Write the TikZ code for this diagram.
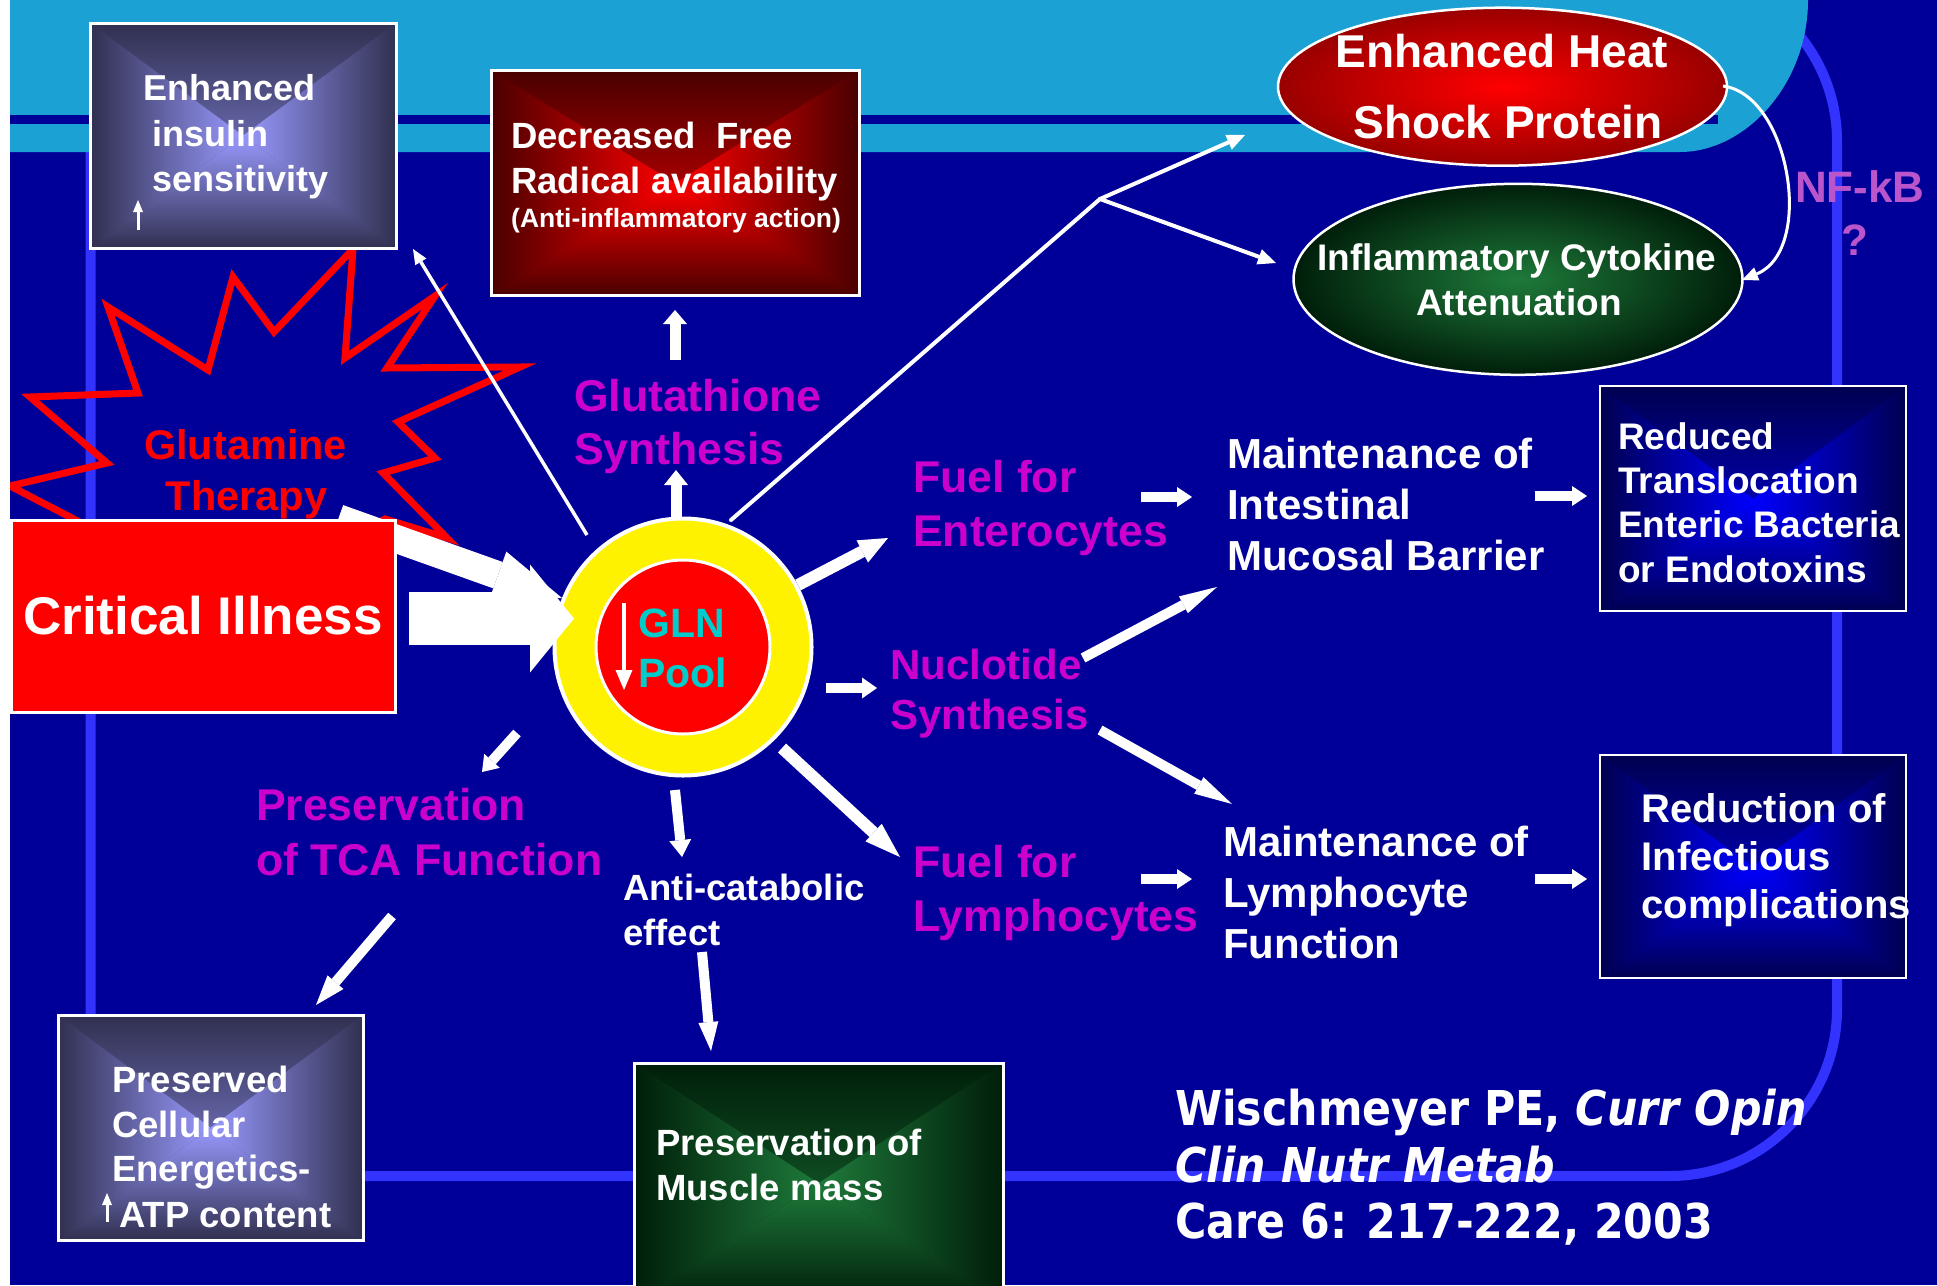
\documentclass[tikz,border=0pt]{standalone}
\usepackage{fontspec}
\setmainfont{Liberation Sans}
\newfontfamily\citefont{DejaVu Sans}[FakeStretch=0.89,BoldFont={DejaVu Sans Bold},BoldItalicFont={DejaVu Sans Bold Oblique}]
\usetikzlibrary{arrows.meta,shapes.geometric}
\definecolor{bgblue}{HTML}{000099}
\definecolor{skyband}{HTML}{1BA1D4}
\definecolor{frameblue}{HTML}{3333FF}
\definecolor{mag}{HTML}{CC00CC}
\definecolor{glncyan}{HTML}{00CCCC}
\definecolor{nfkb}{HTML}{BB55CC}
\definecolor{slateout}{HTML}{303050}
\definecolor{slatein}{HTML}{9999FF}
\definecolor{redout}{HTML}{4A0000}
\definecolor{bluout}{HTML}{000050}
\definecolor{grnout}{HTML}{001E0A}
\definecolor{grnin}{HTML}{1E7A3A}
\definecolor{heatout}{HTML}{990000}
\colorlet{gout}{black}
\colorlet{gin}{white}
\pgfdeclarehorizontalshading[gout,gin]{hlr}{100bp}{color(0bp)=(gout); color(25bp)=(gout); color(75bp)=(gin); color(100bp)=(gin)}
\pgfdeclarehorizontalshading[gout,gin]{hrl}{100bp}{color(0bp)=(gin); color(25bp)=(gin); color(75bp)=(gout); color(100bp)=(gout)}
\newcommand\fsz[1]{\fontsize{#1}{#1}\selectfont}
\tikzset{
  lbl/.style={inner sep=0pt, anchor=base west, font=\bfseries\fsz{#1}},
  lblc/.style={inner sep=0pt, anchor=base, font=\bfseries\fsz{#1}},
  wa/.style n args={3}{draw=white, line width=#1, arrows={-{Triangle[width=#2,length=#3,line width=0pt]}}},
  gbox/.style={draw=white, inner sep=0pt},
  rgrad/.style 2 args={fill=#1, path picture={
    \colorlet{gout}{#1}\colorlet{gin}{#2}%
    \shade[top color=#1,bottom color=#2] (path picture bounding box.north west) -- (path picture bounding box.north east) -- (path picture bounding box.center) -- cycle;
    \shade[top color=#2,bottom color=#1] (path picture bounding box.south west) -- (path picture bounding box.south east) -- (path picture bounding box.center) -- cycle;
    \shade[shading=hlr] (path picture bounding box.north west) -- (path picture bounding box.south west) -- (path picture bounding box.center) -- cycle;
    \shade[shading=hrl] (path picture bounding box.north east) -- (path picture bounding box.south east) -- (path picture bounding box.center) -- cycle;
  }},
}
\begin{document}
\begin{tikzpicture}[x=1pt,y=-1pt]
\useasboundingbox (0,0) rectangle (1937,1285);
% background
\fill[white] (0,0) rectangle (1937,1285);
\fill[bgblue] (10,0) rectangle (1937,1285);
\draw[frameblue, line width=10pt, rounded corners=167pt] (90.5,-26) rectangle (1837,1176);
\fill[skyband] (10,0) -- (1808,0) .. controls (1808,85) and (1745,152) .. (1680,152) -- (10,152) -- cycle;
\fill[bgblue] (10,115) rectangle (1718,124);
% starburst
\draw[red, line width=7pt, miter limit=20] (10,486) -- (107,463) -- (30,397) -- (138,393) -- (108,307) -- (208,370) -- (233,277) -- (274,332) -- (353,249) -- (345,358) -- (435,296) -- (387,368) -- (520,367) -- (398,422) -- (435,458) -- (383,473) -- (447,538) -- (385,519) -- (250,600) -- (150,560) -- (70,517) -- cycle;
\fill[white] (0,0) rectangle (10,1285);
\node[lblc=41.5, text=red] (gt1) at (245.5,459) {Glutamine};
\node[lblc=41.5, text=red] (gt2) at (246.5,510) {Therapy};
% GLN pool
\node[circle, fill=yellow, draw=white, line width=4pt, minimum size=257pt, inner sep=0pt] (ring) at (683,647) {};
\node[circle, fill=red, draw=white, line width=3pt, minimum size=174pt, inner sep=0pt] (pool) at (683,647) {};
\node[lbl=41, text=glncyan] (gln1) at (638,637) {GLN};
\node[lbl=41, text=glncyan] (gln2) at (638,687) {Pool};
\coordinate (gd0) at (624,603); \coordinate (gd1) at (624,690);
\draw[wa={4pt}{17pt}{20pt}] (gd0) -- (gd1);
% big arrows into pool
\coordinate (s0) at (338.5,518.3); \coordinate (s1) at (562,598);
\coordinate (h0) at (409,618.5); \coordinate (h1) at (574,618.5);
\draw[wa={28pt}{50pt}{68pt}] (s0) -- (s1);
\draw[wa={53pt}{108pt}{44pt}] (h0) -- (h1);
% Critical illness
\node[gbox, line width=3pt, fill=red, minimum width=384pt, minimum height=192pt, text=white, font=\bfseries\fsz{53}] (crit) at (203,616) {Critical Illness};
% top boxes
\node[gbox, line width=3pt, rgrad={slateout}{slatein}, minimum width=306pt, minimum height=225pt] (ins) at (243,135.5) {};
\node[lbl=36, text=white] (ins1) at (143.5,100) {Enhanced};
\node[lbl=36, text=white] (ins2) at (152,146) {insulin};
\node[lbl=36, text=white] (ins3) at (152,191) {sensitivity};
\coordinate (ua0) at (138,230); \coordinate (ua1) at (138,200);
\draw[wa={3pt}{10pt}{12pt}] (ua0) -- (ua1);
\node[gbox, line width=3pt, rgrad={redout}{red}, minimum width=368pt, minimum height=225pt] (dfr) at (675,183) {};
\node[lbl=36.5, text=white] (dfr1) at (511,148) {Decreased~~Free};
\node[lbl=36.5, text=white] (dfr2) at (511,193) {Radical availability};
\node[lbl=26.5, text=white] (dfr3) at (511,227) {(Anti-inflammatory action)};
% ellipses
\node[ellipse, draw=white, line width=2.5pt, inner sep=0pt, minimum width=449pt, minimum height=158pt, inner color=red, outer color=heatout] (heat) at (1502.5,86.7) {};
\node[lblc=46, text=white] (heat1) at (1502,67) {Enhanced Heat};
\node[lblc=46, text=white] (heat2) at (1508,138) {Shock Protein};
\node[ellipse, draw=white, line width=2.5pt, inner sep=0pt, minimum width=449pt, minimum height=191pt, inner color=grnin, outer color=grnout] (cyto) at (1518,279.3) {};
\node[lblc=37, text=white] (cyt1) at (1517,270) {Inflammatory Cytokine};
\node[lblc=37, text=white] (cyt2) at (1519,315) {Attenuation};
\node[lbl=44, text=nfkb] (nf1) at (1795,202) {NF-kB};
\node[lblc=44, text=nfkb] (nf2) at (1855,255) {?};
\coordinate (nfa) at (1723,86); \coordinate (nfb) at (1742,280);
\draw[white, line width=3pt, arrows={-{Triangle[width=14pt,length=16pt,line width=0pt]}}] (nfa) .. controls (1790,95) and (1815,250) .. (nfb);
% magenta labels
\node[lbl=44.5, text=mag] (gs1) at (574,411) {Glutathione};
\node[lbl=44.5, text=mag] (gs2) at (574,464) {Synthesis};
\node[lbl=44.5, text=mag] (fe1) at (913,492) {Fuel for};
\node[lbl=44.5, text=mag] (fe2) at (913,546) {Enterocytes};
\node[lbl=42, text=mag] (ns1) at (890,679) {Nuclotide};
\node[lbl=42, text=mag] (ns2) at (890,729) {Synthesis};
\node[lbl=44.5, text=mag] (fl1) at (913,877) {Fuel for};
\node[lbl=44.5, text=mag] (fl2) at (913,931) {Lymphocytes};
\node[lbl=44.5, text=mag] (tca1) at (256,820) {Preservation};
\node[lbl=44.5, text=mag] (tca2) at (256,875) {of TCA Function};
\node[lbl=36.5, text=white] (ac1) at (623,900) {Anti-catabolic};
\node[lbl=36.5, text=white] (ac2) at (623,945) {effect};
% white labels
\node[lbl=42, text=white] (mi1) at (1227,468) {Maintenance of};
\node[lbl=42, text=white] (mi2) at (1227,519) {Intestinal};
\node[lbl=42, text=white] (mi3) at (1227,570) {Mucosal Barrier};
\node[lbl=42, text=white] (ml1) at (1223,856) {Maintenance of};
\node[lbl=42, text=white] (ml2) at (1223,907) {Lymphocyte};
\node[lbl=42, text=white] (ml3) at (1223,958) {Function};
% right boxes
\node[gbox, line width=2.5pt, rgrad={bluout}{blue}, minimum width=306pt, minimum height=225pt] (trans) at (1753,498.5) {};
\node[lbl=37, text=white] (tr1) at (1618,449) {Reduced};
\node[lbl=37, text=white] (tr2) at (1618,493) {Translocation};
\node[lbl=37, text=white] (tr3) at (1618,537) {Enteric Bacteria};
\node[lbl=37, text=white] (tr4) at (1618,582) {or Endotoxins};
\node[gbox, line width=2.5pt, rgrad={bluout}{blue}, minimum width=306pt, minimum height=223pt] (infx) at (1753,866.5) {};
\node[lbl=40, text=white] (in1) at (1641.5,822) {Reduction of};
\node[lbl=40, text=white] (in2) at (1641.5,870) {Infectious};
\node[lbl=40, text=white] (in3) at (1641.5,918) {complications};
% bottom boxes
\node[gbox, line width=3pt, rgrad={slateout}{slatein}, minimum width=305pt, minimum height=225pt] (atp) at (210.5,1127.5) {};
\node[lbl=36.5, text=white] (at1) at (112,1092) {Preserved};
\node[lbl=36.5, text=white] (at2) at (112,1137) {Cellular};
\node[lbl=36.5, text=white] (at3) at (112,1181) {Energetics-};
\node[lbl=36.5, text=white] (at4) at (119,1227) {ATP content};
\coordinate (ub0) at (107,1222); \coordinate (ub1) at (107,1193);
\draw[wa={3pt}{10pt}{12pt}] (ub0) -- (ub1);
\node[gbox, line width=3pt, rgrad={grnout}{grnin}, minimum width=369pt, minimum height=240pt] (musc) at (818.5,1183) {};
\node[lbl=36.5, text=white] (mu1) at (656,1155) {Preservation of};
\node[lbl=36.5, text=white] (mu2) at (656,1200) {Muscle mass};
% citation
\node[anchor=base west, inner sep=0pt, text=white, font=\citefont\bfseries\fsz{48}] (cit1) at (1175,1125) {Wischmeyer PE, \textit{Curr Opin}};
\node[anchor=base west, inner sep=0pt, text=white, font=\citefont\bfseries\fsz{48}] (cit2) at (1175,1182) {\textit{Clin Nutr Metab}};
\node[anchor=base west, inner sep=0pt, text=white, font=\citefont\bfseries\fsz{48}] (cit3) at (1175,1238) {Care 6: 217-222, 2003};
% connectors from pool
\coordinate (a3a) at (676,517); \coordinate (a3b) at (676,470);
\draw[wa={11pt}{24pt}{15pt}] (a3a) -- (a3b);
\coordinate (a4a) at (675,360); \coordinate (a4b) at (675,310);
\draw[wa={11pt}{24pt}{14pt}] (a4a) -- (a4b);
\coordinate (a5a) at (587,535); \coordinate (a5b) at (413,249);
\draw[wa={3.5pt}{13pt}{15pt}] (a5a) -- (a5b);
\coordinate (a6a) at (731,520); \coordinate (br) at (1100,199);
\coordinate (a6b) at (1245,135); \coordinate (a6c) at (1276,263);
\draw[white, line width=4pt, line cap=round] (a6a) -- (br);
\draw[wa={4pt}{16pt}{18pt}, line cap=round] (br) -- (a6b);
\draw[wa={4pt}{16pt}{18pt}, line cap=round] (br) -- (a6c);
\coordinate (a7a) at (798,585); \coordinate (a7b) at (888,538);
\draw[wa={12pt}{25pt}{29pt}] (a7a) -- (a7b);
\coordinate (a8a) at (826,688); \coordinate (a8b) at (877,688);
\draw[wa={10pt}{21pt}{15pt}] (a8a) -- (a8b);
\coordinate (a9a) at (782,748); \coordinate (a9b) at (900,857);
\draw[wa={12pt}{24pt}{36pt}] (a9a) -- (a9b);
\coordinate (a10a) at (675,790); \coordinate (a10b) at (682,857);
\draw[wa={10pt}{22pt}{17pt}] (a10a) -- (a10b);
\coordinate (a11a) at (517,733); \coordinate (a11b) at (482,772);
\draw[wa={10pt}{21pt}{15pt}] (a11a) -- (a11b);
\coordinate (a12a) at (392,916); \coordinate (a12b) at (316,1005);
\draw[wa={10pt}{21pt}{30pt}] (a12a) -- (a12b);
\coordinate (a13a) at (702,952); \coordinate (a13b) at (711,1051);
\draw[wa={10pt}{20pt}{29pt}] (a13a) -- (a13b);
\coordinate (a14a) at (1141,497); \coordinate (a14b) at (1192,497);
\draw[wa={10pt}{20pt}{15pt}] (a14a) -- (a14b);
\coordinate (a15a) at (1535,496); \coordinate (a15b) at (1587,496);
\draw[wa={10pt}{20pt}{15pt}] (a15a) -- (a15b);
\coordinate (a16a) at (1141,879); \coordinate (a16b) at (1192,879);
\draw[wa={10pt}{20pt}{15pt}] (a16a) -- (a16b);
\coordinate (a17a) at (1535,879); \coordinate (a17b) at (1587,879);
\draw[wa={10pt}{20pt}{15pt}] (a17a) -- (a17b);
\coordinate (a18a) at (1083,658); \coordinate (a18b) at (1217,587);
\draw[wa={10pt}{19pt}{38pt}] (a18a) -- (a18b);
\coordinate (a19a) at (1100,730); \coordinate (a19b) at (1232,804);
\draw[wa={10pt}{19pt}{38pt}] (a19a) -- (a19b);
\end{tikzpicture}
\end{document}
